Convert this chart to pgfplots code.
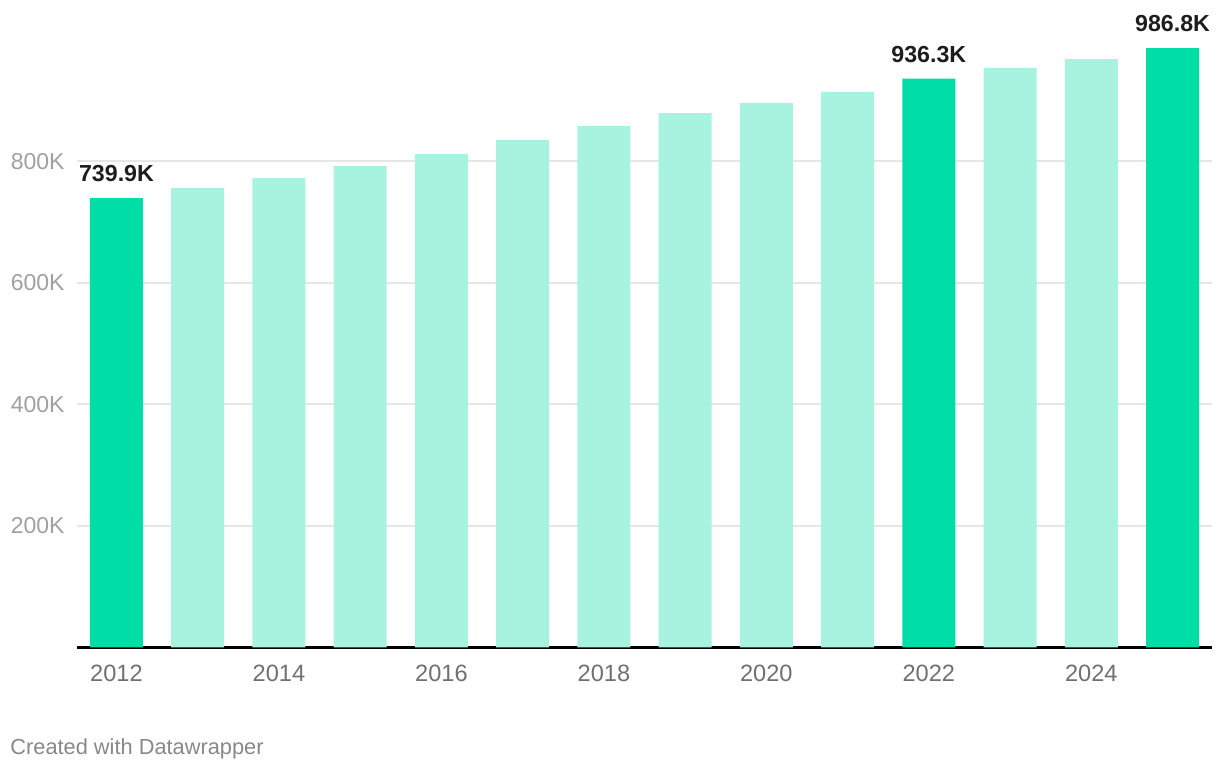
\documentclass[border=0pt]{standalone}
\usepackage{fontspec}
\setmainfont{Liberation Sans}
\usepackage{pgfplots}
\pgfplotsset{compat=1.18}
\definecolor{hi}{HTML}{00DDA6}
\definecolor{lo}{HTML}{A7F3DF}
\definecolor{gridc}{HTML}{E6E6E6}
\definecolor{xlab}{HTML}{707070}
\definecolor{ylab}{HTML}{A0A0A0}
\definecolor{vlab}{HTML}{1D1D1D}
\definecolor{foot}{HTML}{888888}
\begin{document}
\begin{tikzpicture}
\begin{axis}[
  at={(0,0)}, anchor=south west,
  scale only axis,
  width=567.5pt, height=303.75pt,
  xmin=-0.486, xmax=13.486,
  ymin=0, ymax=1000,
  clip=false,
  axis y line*=left,
  y axis line style={draw=none},
  axis x line*=bottom,
  x axis line style={black, line width=1.2pt},
  major tick length=0pt,
  xtick={0,2,4,6,8,10,12},
  xticklabels={2012,2014,2016,2018,2020,2022,2024},
  ytick={200,400,600,800},
  yticklabels={200K,400K,600K,800K},
  ymajorgrids,
  grid style={gridc, line width=1pt},
  /pgf/number format/assume math mode=true,
  xticklabel style={anchor=north, inner sep=0pt, yshift=-8.75pt, font=\fontsize{11.8pt}{13pt}\selectfont, text=xlab},
  yticklabel style={anchor=east, inner sep=0pt, xshift=-6pt, font=\fontsize{11.5pt}{13pt}\selectfont, text=ylab},
  ybar, bar width=26.5pt, bar shift=0pt,
]
\addplot[draw=none, fill=lo] coordinates {
  (1,756.4) (2,772.8) (3,792.6) (4,812.3) (5,835.4) (6,858.4)
  (7,879.8) (8,896.3) (9,914.4) (11,953.9) (12,968.7)
};
\addplot[draw=none, fill=hi,
  point meta=explicit symbolic,
  nodes near coords,
  every node near coord/.append style={anchor=south, inner sep=0pt, yshift=7.75pt,
     font=\fontsize{11.6pt}{13pt}\selectfont\bfseries, text=vlab}
] coordinates {
  (0,739.9) [739.9K]
  (10,936.3) [936.3K]
  (13,986.8) [986.8K]
};
\end{axis}
\pgfresetboundingbox
\useasboundingbox (-38.5pt,-61.25pt) rectangle (571.5pt,323.75pt);
\node[anchor=base west, inner sep=0pt, text=foot, font=\fontsize{10.9pt}{13pt}\selectfont] at (-33.5pt,-53.5pt) {Created with Datawrapper};
\end{tikzpicture}
\end{document}
